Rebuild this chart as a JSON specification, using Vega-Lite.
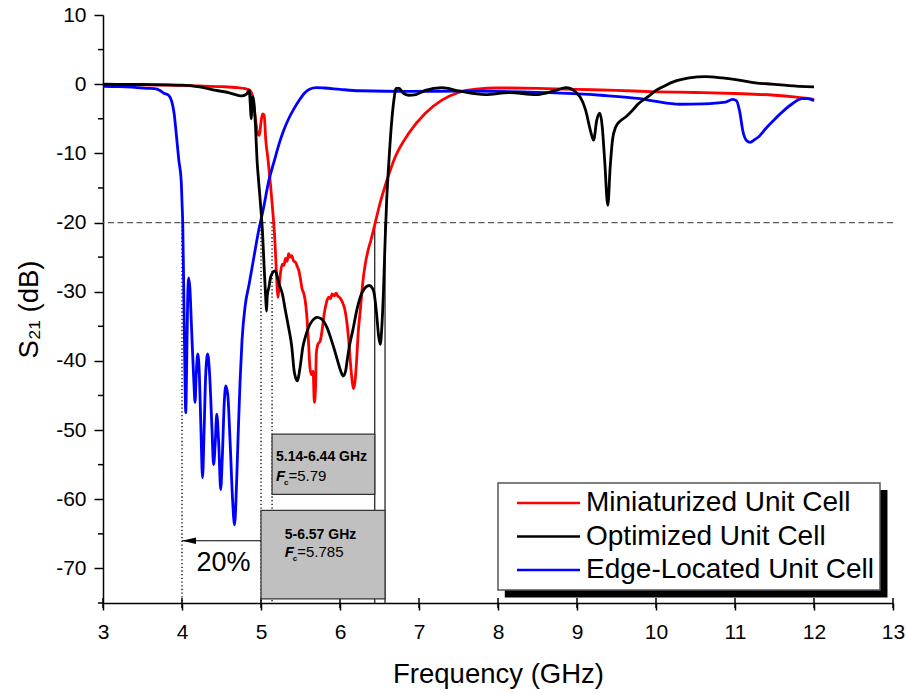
{
  "$schema": "https://vega.github.io/schema/vega-lite/v6.json",
  "width": 790,
  "height": 588,
  "autosize": {"type": "none"},
  "padding": {"left": 103, "top": 15, "right": 13, "bottom": 90},
  "background": "white",
  "config": {
    "view": {"stroke": null},
    "font": "Liberation Sans",
    "text": {"font": "Liberation Sans", "color": "black"}
  },
  "datasets": {
    "curves": [
      {"series": "Miniaturized Unit Cell", "f": 3.0, "s21": -0.05},
      {"series": "Miniaturized Unit Cell", "f": 3.4, "s21": -0.1},
      {"series": "Miniaturized Unit Cell", "f": 3.8, "s21": -0.15},
      {"series": "Miniaturized Unit Cell", "f": 4.2, "s21": -0.25},
      {"series": "Miniaturized Unit Cell", "f": 4.5, "s21": -0.35},
      {"series": "Miniaturized Unit Cell", "f": 4.7, "s21": -0.5},
      {"series": "Miniaturized Unit Cell", "f": 4.8, "s21": -0.65},
      {"series": "Miniaturized Unit Cell", "f": 4.86, "s21": -0.9},
      {"series": "Miniaturized Unit Cell", "f": 4.9, "s21": -2.2},
      {"series": "Miniaturized Unit Cell", "f": 4.93, "s21": -5.0},
      {"series": "Miniaturized Unit Cell", "f": 4.96, "s21": -7.2},
      {"series": "Miniaturized Unit Cell", "f": 4.98, "s21": -7.4},
      {"series": "Miniaturized Unit Cell", "f": 5.0, "s21": -5.5},
      {"series": "Miniaturized Unit Cell", "f": 5.02, "s21": -4.3},
      {"series": "Miniaturized Unit Cell", "f": 5.04, "s21": -4.5},
      {"series": "Miniaturized Unit Cell", "f": 5.06, "s21": -8.0},
      {"series": "Miniaturized Unit Cell", "f": 5.09, "s21": -11.0},
      {"series": "Miniaturized Unit Cell", "f": 5.12, "s21": -14.5},
      {"series": "Miniaturized Unit Cell", "f": 5.15, "s21": -18.5},
      {"series": "Miniaturized Unit Cell", "f": 5.17, "s21": -21.5},
      {"series": "Miniaturized Unit Cell", "f": 5.19, "s21": -26.0},
      {"series": "Miniaturized Unit Cell", "f": 5.205, "s21": -29.5},
      {"series": "Miniaturized Unit Cell", "f": 5.215, "s21": -30.8},
      {"series": "Miniaturized Unit Cell", "f": 5.23, "s21": -29.0},
      {"series": "Miniaturized Unit Cell", "f": 5.25, "s21": -27.0},
      {"series": "Miniaturized Unit Cell", "f": 5.27, "s21": -26.0},
      {"series": "Miniaturized Unit Cell", "f": 5.29, "s21": -26.2},
      {"series": "Miniaturized Unit Cell", "f": 5.31, "s21": -25.2},
      {"series": "Miniaturized Unit Cell", "f": 5.33, "s21": -25.6},
      {"series": "Miniaturized Unit Cell", "f": 5.35, "s21": -24.5},
      {"series": "Miniaturized Unit Cell", "f": 5.37, "s21": -25.0},
      {"series": "Miniaturized Unit Cell", "f": 5.39, "s21": -24.8},
      {"series": "Miniaturized Unit Cell", "f": 5.41, "s21": -25.5},
      {"series": "Miniaturized Unit Cell", "f": 5.44, "s21": -25.8},
      {"series": "Miniaturized Unit Cell", "f": 5.46, "s21": -26.4},
      {"series": "Miniaturized Unit Cell", "f": 5.48, "s21": -27.0},
      {"series": "Miniaturized Unit Cell", "f": 5.5, "s21": -28.2},
      {"series": "Miniaturized Unit Cell", "f": 5.52, "s21": -29.6},
      {"series": "Miniaturized Unit Cell", "f": 5.54, "s21": -30.2},
      {"series": "Miniaturized Unit Cell", "f": 5.56, "s21": -31.3},
      {"series": "Miniaturized Unit Cell", "f": 5.58, "s21": -33.5},
      {"series": "Miniaturized Unit Cell", "f": 5.6, "s21": -37.0},
      {"series": "Miniaturized Unit Cell", "f": 5.62, "s21": -41.0},
      {"series": "Miniaturized Unit Cell", "f": 5.64, "s21": -42.0},
      {"series": "Miniaturized Unit Cell", "f": 5.66, "s21": -41.5},
      {"series": "Miniaturized Unit Cell", "f": 5.675, "s21": -46.0},
      {"series": "Miniaturized Unit Cell", "f": 5.69, "s21": -44.0},
      {"series": "Miniaturized Unit Cell", "f": 5.7, "s21": -39.0},
      {"series": "Miniaturized Unit Cell", "f": 5.72, "s21": -37.6},
      {"series": "Miniaturized Unit Cell", "f": 5.75, "s21": -37.1},
      {"series": "Miniaturized Unit Cell", "f": 5.78, "s21": -35.0},
      {"series": "Miniaturized Unit Cell", "f": 5.8, "s21": -33.2},
      {"series": "Miniaturized Unit Cell", "f": 5.83, "s21": -31.5},
      {"series": "Miniaturized Unit Cell", "f": 5.86, "s21": -30.8},
      {"series": "Miniaturized Unit Cell", "f": 5.88, "s21": -31.0},
      {"series": "Miniaturized Unit Cell", "f": 5.9, "s21": -30.3},
      {"series": "Miniaturized Unit Cell", "f": 5.93, "s21": -30.6},
      {"series": "Miniaturized Unit Cell", "f": 5.95, "s21": -30.2},
      {"series": "Miniaturized Unit Cell", "f": 5.97, "s21": -30.6},
      {"series": "Miniaturized Unit Cell", "f": 6.0, "s21": -30.9},
      {"series": "Miniaturized Unit Cell", "f": 6.03, "s21": -31.5},
      {"series": "Miniaturized Unit Cell", "f": 6.06, "s21": -32.5},
      {"series": "Miniaturized Unit Cell", "f": 6.09, "s21": -34.7},
      {"series": "Miniaturized Unit Cell", "f": 6.11, "s21": -37.0},
      {"series": "Miniaturized Unit Cell", "f": 6.13, "s21": -40.0},
      {"series": "Miniaturized Unit Cell", "f": 6.155, "s21": -43.0},
      {"series": "Miniaturized Unit Cell", "f": 6.17, "s21": -44.0},
      {"series": "Miniaturized Unit Cell", "f": 6.19, "s21": -43.0},
      {"series": "Miniaturized Unit Cell", "f": 6.21, "s21": -40.0},
      {"series": "Miniaturized Unit Cell", "f": 6.23, "s21": -36.0},
      {"series": "Miniaturized Unit Cell", "f": 6.26, "s21": -32.3},
      {"series": "Miniaturized Unit Cell", "f": 6.29, "s21": -28.5},
      {"series": "Miniaturized Unit Cell", "f": 6.32, "s21": -26.0},
      {"series": "Miniaturized Unit Cell", "f": 6.36, "s21": -23.8},
      {"series": "Miniaturized Unit Cell", "f": 6.39, "s21": -22.6},
      {"series": "Miniaturized Unit Cell", "f": 6.43, "s21": -20.8},
      {"series": "Miniaturized Unit Cell", "f": 6.5, "s21": -17.5},
      {"series": "Miniaturized Unit Cell", "f": 6.58, "s21": -14.4},
      {"series": "Miniaturized Unit Cell", "f": 6.7, "s21": -10.5},
      {"series": "Miniaturized Unit Cell", "f": 6.87, "s21": -7.1},
      {"series": "Miniaturized Unit Cell", "f": 7.08, "s21": -4.2},
      {"series": "Miniaturized Unit Cell", "f": 7.29, "s21": -2.3},
      {"series": "Miniaturized Unit Cell", "f": 7.5, "s21": -1.2},
      {"series": "Miniaturized Unit Cell", "f": 7.72, "s21": -0.7},
      {"series": "Miniaturized Unit Cell", "f": 8.0, "s21": -0.55},
      {"series": "Miniaturized Unit Cell", "f": 8.5, "s21": -0.6},
      {"series": "Miniaturized Unit Cell", "f": 9.0, "s21": -0.75},
      {"series": "Miniaturized Unit Cell", "f": 9.5, "s21": -0.9},
      {"series": "Miniaturized Unit Cell", "f": 10.0, "s21": -1.1},
      {"series": "Miniaturized Unit Cell", "f": 10.5, "s21": -1.2},
      {"series": "Miniaturized Unit Cell", "f": 11.0, "s21": -1.35},
      {"series": "Miniaturized Unit Cell", "f": 11.5, "s21": -1.6},
      {"series": "Miniaturized Unit Cell", "f": 11.75, "s21": -1.85},
      {"series": "Miniaturized Unit Cell", "f": 12.0, "s21": -2.2},

      {"series": "Edge-Located Unit Cell", "f": 3.0, "s21": -0.3},
      {"series": "Edge-Located Unit Cell", "f": 3.2, "s21": -0.35},
      {"series": "Edge-Located Unit Cell", "f": 3.4, "s21": -0.45},
      {"series": "Edge-Located Unit Cell", "f": 3.55, "s21": -0.6},
      {"series": "Edge-Located Unit Cell", "f": 3.65, "s21": -0.65},
      {"series": "Edge-Located Unit Cell", "f": 3.72, "s21": -0.9},
      {"series": "Edge-Located Unit Cell", "f": 3.77, "s21": -1.3},
      {"series": "Edge-Located Unit Cell", "f": 3.83, "s21": -1.6},
      {"series": "Edge-Located Unit Cell", "f": 3.87, "s21": -2.5},
      {"series": "Edge-Located Unit Cell", "f": 3.9, "s21": -4.2},
      {"series": "Edge-Located Unit Cell", "f": 3.93, "s21": -7.5},
      {"series": "Edge-Located Unit Cell", "f": 3.96, "s21": -11.0},
      {"series": "Edge-Located Unit Cell", "f": 3.99, "s21": -14.0},
      {"series": "Edge-Located Unit Cell", "f": 4.0, "s21": -17.0},
      {"series": "Edge-Located Unit Cell", "f": 4.01, "s21": -20.5},
      {"series": "Edge-Located Unit Cell", "f": 4.025, "s21": -32.0},
      {"series": "Edge-Located Unit Cell", "f": 4.04, "s21": -44.0},
      {"series": "Edge-Located Unit Cell", "f": 4.047, "s21": -47.5},
      {"series": "Edge-Located Unit Cell", "f": 4.06, "s21": -40.0},
      {"series": "Edge-Located Unit Cell", "f": 4.072, "s21": -31.0},
      {"series": "Edge-Located Unit Cell", "f": 4.085, "s21": -28.0},
      {"series": "Edge-Located Unit Cell", "f": 4.1, "s21": -29.5},
      {"series": "Edge-Located Unit Cell", "f": 4.12, "s21": -35.0},
      {"series": "Edge-Located Unit Cell", "f": 4.15, "s21": -43.0},
      {"series": "Edge-Located Unit Cell", "f": 4.165, "s21": -46.0},
      {"series": "Edge-Located Unit Cell", "f": 4.18, "s21": -42.0},
      {"series": "Edge-Located Unit Cell", "f": 4.2, "s21": -39.0},
      {"series": "Edge-Located Unit Cell", "f": 4.22, "s21": -42.0},
      {"series": "Edge-Located Unit Cell", "f": 4.24, "s21": -50.0},
      {"series": "Edge-Located Unit Cell", "f": 4.26, "s21": -56.9},
      {"series": "Edge-Located Unit Cell", "f": 4.28, "s21": -50.0},
      {"series": "Edge-Located Unit Cell", "f": 4.3, "s21": -42.0},
      {"series": "Edge-Located Unit Cell", "f": 4.325, "s21": -39.0},
      {"series": "Edge-Located Unit Cell", "f": 4.35, "s21": -42.0},
      {"series": "Edge-Located Unit Cell", "f": 4.38, "s21": -50.0},
      {"series": "Edge-Located Unit Cell", "f": 4.4, "s21": -55.0},
      {"series": "Edge-Located Unit Cell", "f": 4.42, "s21": -52.0},
      {"series": "Edge-Located Unit Cell", "f": 4.44, "s21": -47.7},
      {"series": "Edge-Located Unit Cell", "f": 4.465, "s21": -52.0},
      {"series": "Edge-Located Unit Cell", "f": 4.49, "s21": -58.6},
      {"series": "Edge-Located Unit Cell", "f": 4.51, "s21": -54.0},
      {"series": "Edge-Located Unit Cell", "f": 4.535, "s21": -46.0},
      {"series": "Edge-Located Unit Cell", "f": 4.555, "s21": -43.6},
      {"series": "Edge-Located Unit Cell", "f": 4.58, "s21": -45.0},
      {"series": "Edge-Located Unit Cell", "f": 4.61, "s21": -52.0},
      {"series": "Edge-Located Unit Cell", "f": 4.64, "s21": -60.0},
      {"series": "Edge-Located Unit Cell", "f": 4.665, "s21": -63.7},
      {"series": "Edge-Located Unit Cell", "f": 4.69, "s21": -58.0},
      {"series": "Edge-Located Unit Cell", "f": 4.71, "s21": -51.0},
      {"series": "Edge-Located Unit Cell", "f": 4.735, "s21": -43.0},
      {"series": "Edge-Located Unit Cell", "f": 4.76, "s21": -37.0},
      {"series": "Edge-Located Unit Cell", "f": 4.8, "s21": -32.0},
      {"series": "Edge-Located Unit Cell", "f": 4.85, "s21": -28.9},
      {"series": "Edge-Located Unit Cell", "f": 4.91, "s21": -25.0},
      {"series": "Edge-Located Unit Cell", "f": 4.97, "s21": -21.2},
      {"series": "Edge-Located Unit Cell", "f": 5.03, "s21": -18.0},
      {"series": "Edge-Located Unit Cell", "f": 5.1, "s21": -13.9},
      {"series": "Edge-Located Unit Cell", "f": 5.17, "s21": -11.0},
      {"series": "Edge-Located Unit Cell", "f": 5.23, "s21": -8.6},
      {"series": "Edge-Located Unit Cell", "f": 5.29, "s21": -6.6},
      {"series": "Edge-Located Unit Cell", "f": 5.35, "s21": -5.0},
      {"series": "Edge-Located Unit Cell", "f": 5.42, "s21": -3.5},
      {"series": "Edge-Located Unit Cell", "f": 5.48, "s21": -2.4},
      {"series": "Edge-Located Unit Cell", "f": 5.55, "s21": -1.3},
      {"series": "Edge-Located Unit Cell", "f": 5.62, "s21": -0.7},
      {"series": "Edge-Located Unit Cell", "f": 5.7, "s21": -0.5},
      {"series": "Edge-Located Unit Cell", "f": 5.8, "s21": -0.55},
      {"series": "Edge-Located Unit Cell", "f": 6.0, "s21": -0.75},
      {"series": "Edge-Located Unit Cell", "f": 6.25, "s21": -0.95},
      {"series": "Edge-Located Unit Cell", "f": 6.9, "s21": -1.05},
      {"series": "Edge-Located Unit Cell", "f": 7.5, "s21": -1.0},
      {"series": "Edge-Located Unit Cell", "f": 8.0, "s21": -1.05},
      {"series": "Edge-Located Unit Cell", "f": 8.8, "s21": -1.3},
      {"series": "Edge-Located Unit Cell", "f": 9.3, "s21": -1.6},
      {"series": "Edge-Located Unit Cell", "f": 9.8, "s21": -2.1},
      {"series": "Edge-Located Unit Cell", "f": 10.0, "s21": -2.5},
      {"series": "Edge-Located Unit Cell", "f": 10.3, "s21": -2.9},
      {"series": "Edge-Located Unit Cell", "f": 10.6, "s21": -2.85},
      {"series": "Edge-Located Unit Cell", "f": 10.88, "s21": -2.6},
      {"series": "Edge-Located Unit Cell", "f": 10.97, "s21": -2.2},
      {"series": "Edge-Located Unit Cell", "f": 11.02, "s21": -2.4},
      {"series": "Edge-Located Unit Cell", "f": 11.06, "s21": -4.0},
      {"series": "Edge-Located Unit Cell", "f": 11.1, "s21": -6.8},
      {"series": "Edge-Located Unit Cell", "f": 11.15, "s21": -8.2},
      {"series": "Edge-Located Unit Cell", "f": 11.19, "s21": -8.4},
      {"series": "Edge-Located Unit Cell", "f": 11.25, "s21": -8.0},
      {"series": "Edge-Located Unit Cell", "f": 11.3, "s21": -7.6},
      {"series": "Edge-Located Unit Cell", "f": 11.39, "s21": -6.4},
      {"series": "Edge-Located Unit Cell", "f": 11.5, "s21": -5.1},
      {"series": "Edge-Located Unit Cell", "f": 11.6, "s21": -4.0},
      {"series": "Edge-Located Unit Cell", "f": 11.73, "s21": -2.8},
      {"series": "Edge-Located Unit Cell", "f": 11.85, "s21": -2.1},
      {"series": "Edge-Located Unit Cell", "f": 11.92, "s21": -2.1},
      {"series": "Edge-Located Unit Cell", "f": 12.0, "s21": -2.4},

      {"series": "Optimized Unit Cell", "f": 3.0, "s21": 0.0},
      {"series": "Optimized Unit Cell", "f": 3.5, "s21": -0.05},
      {"series": "Optimized Unit Cell", "f": 4.0, "s21": -0.15},
      {"series": "Optimized Unit Cell", "f": 4.22, "s21": -0.4},
      {"series": "Optimized Unit Cell", "f": 4.43, "s21": -0.9},
      {"series": "Optimized Unit Cell", "f": 4.6, "s21": -1.25},
      {"series": "Optimized Unit Cell", "f": 4.7, "s21": -1.6},
      {"series": "Optimized Unit Cell", "f": 4.76, "s21": -1.7},
      {"series": "Optimized Unit Cell", "f": 4.82, "s21": -1.4},
      {"series": "Optimized Unit Cell", "f": 4.85, "s21": -0.9},
      {"series": "Optimized Unit Cell", "f": 4.865, "s21": -3.0},
      {"series": "Optimized Unit Cell", "f": 4.875, "s21": -5.0},
      {"series": "Optimized Unit Cell", "f": 4.89, "s21": -2.0},
      {"series": "Optimized Unit Cell", "f": 4.9, "s21": -1.8},
      {"series": "Optimized Unit Cell", "f": 4.915, "s21": -3.3},
      {"series": "Optimized Unit Cell", "f": 4.93, "s21": -6.0},
      {"series": "Optimized Unit Cell", "f": 4.95, "s21": -11.0},
      {"series": "Optimized Unit Cell", "f": 4.97, "s21": -14.0},
      {"series": "Optimized Unit Cell", "f": 4.99, "s21": -16.8},
      {"series": "Optimized Unit Cell", "f": 5.02, "s21": -21.6},
      {"series": "Optimized Unit Cell", "f": 5.04, "s21": -26.5},
      {"series": "Optimized Unit Cell", "f": 5.06, "s21": -31.0},
      {"series": "Optimized Unit Cell", "f": 5.07, "s21": -32.8},
      {"series": "Optimized Unit Cell", "f": 5.08, "s21": -30.5},
      {"series": "Optimized Unit Cell", "f": 5.1, "s21": -29.4},
      {"series": "Optimized Unit Cell", "f": 5.12, "s21": -28.0},
      {"series": "Optimized Unit Cell", "f": 5.14, "s21": -27.4},
      {"series": "Optimized Unit Cell", "f": 5.17, "s21": -27.0},
      {"series": "Optimized Unit Cell", "f": 5.19, "s21": -27.2},
      {"series": "Optimized Unit Cell", "f": 5.21, "s21": -28.0},
      {"series": "Optimized Unit Cell", "f": 5.23, "s21": -28.9},
      {"series": "Optimized Unit Cell", "f": 5.27, "s21": -30.3},
      {"series": "Optimized Unit Cell", "f": 5.31, "s21": -32.8},
      {"series": "Optimized Unit Cell", "f": 5.35, "s21": -35.2},
      {"series": "Optimized Unit Cell", "f": 5.39, "s21": -38.0},
      {"series": "Optimized Unit Cell", "f": 5.42, "s21": -41.5},
      {"series": "Optimized Unit Cell", "f": 5.44, "s21": -42.5},
      {"series": "Optimized Unit Cell", "f": 5.46, "s21": -42.9},
      {"series": "Optimized Unit Cell", "f": 5.48, "s21": -42.0},
      {"series": "Optimized Unit Cell", "f": 5.5, "s21": -40.5},
      {"series": "Optimized Unit Cell", "f": 5.53, "s21": -38.0},
      {"series": "Optimized Unit Cell", "f": 5.56, "s21": -36.6},
      {"series": "Optimized Unit Cell", "f": 5.6, "s21": -35.2},
      {"series": "Optimized Unit Cell", "f": 5.65, "s21": -34.2},
      {"series": "Optimized Unit Cell", "f": 5.71, "s21": -33.7},
      {"series": "Optimized Unit Cell", "f": 5.76, "s21": -33.9},
      {"series": "Optimized Unit Cell", "f": 5.8, "s21": -34.4},
      {"series": "Optimized Unit Cell", "f": 5.84, "s21": -35.3},
      {"series": "Optimized Unit Cell", "f": 5.88, "s21": -36.6},
      {"series": "Optimized Unit Cell", "f": 5.93, "s21": -38.4},
      {"series": "Optimized Unit Cell", "f": 5.97, "s21": -40.0},
      {"series": "Optimized Unit Cell", "f": 6.01, "s21": -41.5},
      {"series": "Optimized Unit Cell", "f": 6.04, "s21": -42.2},
      {"series": "Optimized Unit Cell", "f": 6.07, "s21": -41.5},
      {"series": "Optimized Unit Cell", "f": 6.09, "s21": -40.0},
      {"series": "Optimized Unit Cell", "f": 6.12, "s21": -37.8},
      {"series": "Optimized Unit Cell", "f": 6.16, "s21": -35.7},
      {"series": "Optimized Unit Cell", "f": 6.22, "s21": -32.3},
      {"series": "Optimized Unit Cell", "f": 6.28, "s21": -30.1},
      {"series": "Optimized Unit Cell", "f": 6.33, "s21": -29.3},
      {"series": "Optimized Unit Cell", "f": 6.37, "s21": -29.1},
      {"series": "Optimized Unit Cell", "f": 6.41, "s21": -29.5},
      {"series": "Optimized Unit Cell", "f": 6.43, "s21": -30.1},
      {"series": "Optimized Unit Cell", "f": 6.46, "s21": -32.8},
      {"series": "Optimized Unit Cell", "f": 6.49, "s21": -36.5},
      {"series": "Optimized Unit Cell", "f": 6.51, "s21": -37.6},
      {"series": "Optimized Unit Cell", "f": 6.53, "s21": -35.0},
      {"series": "Optimized Unit Cell", "f": 6.55, "s21": -30.0},
      {"series": "Optimized Unit Cell", "f": 6.57, "s21": -23.0},
      {"series": "Optimized Unit Cell", "f": 6.59, "s21": -17.0},
      {"series": "Optimized Unit Cell", "f": 6.62, "s21": -11.0},
      {"series": "Optimized Unit Cell", "f": 6.65, "s21": -6.0},
      {"series": "Optimized Unit Cell", "f": 6.68, "s21": -2.5},
      {"series": "Optimized Unit Cell", "f": 6.71, "s21": -0.6},
      {"series": "Optimized Unit Cell", "f": 6.75, "s21": -0.6},
      {"series": "Optimized Unit Cell", "f": 6.8, "s21": -1.3},
      {"series": "Optimized Unit Cell", "f": 6.87, "s21": -1.6},
      {"series": "Optimized Unit Cell", "f": 6.96, "s21": -1.5},
      {"series": "Optimized Unit Cell", "f": 7.08, "s21": -0.9},
      {"series": "Optimized Unit Cell", "f": 7.29, "s21": -0.5},
      {"series": "Optimized Unit Cell", "f": 7.51, "s21": -1.0},
      {"series": "Optimized Unit Cell", "f": 7.84, "s21": -1.5},
      {"series": "Optimized Unit Cell", "f": 8.14, "s21": -1.2},
      {"series": "Optimized Unit Cell", "f": 8.48, "s21": -1.5},
      {"series": "Optimized Unit Cell", "f": 8.73, "s21": -0.9},
      {"series": "Optimized Unit Cell", "f": 8.86, "s21": -0.5},
      {"series": "Optimized Unit Cell", "f": 8.98, "s21": -1.1},
      {"series": "Optimized Unit Cell", "f": 9.07, "s21": -2.5},
      {"series": "Optimized Unit Cell", "f": 9.11, "s21": -3.8},
      {"series": "Optimized Unit Cell", "f": 9.17, "s21": -6.7},
      {"series": "Optimized Unit Cell", "f": 9.21, "s21": -8.1},
      {"series": "Optimized Unit Cell", "f": 9.25, "s21": -5.2},
      {"series": "Optimized Unit Cell", "f": 9.29, "s21": -4.2},
      {"series": "Optimized Unit Cell", "f": 9.32, "s21": -6.2},
      {"series": "Optimized Unit Cell", "f": 9.35, "s21": -11.0},
      {"series": "Optimized Unit Cell", "f": 9.39, "s21": -17.5},
      {"series": "Optimized Unit Cell", "f": 9.42, "s21": -12.0},
      {"series": "Optimized Unit Cell", "f": 9.45, "s21": -8.0},
      {"series": "Optimized Unit Cell", "f": 9.49, "s21": -6.2},
      {"series": "Optimized Unit Cell", "f": 9.55, "s21": -5.3},
      {"series": "Optimized Unit Cell", "f": 9.62, "s21": -4.7},
      {"series": "Optimized Unit Cell", "f": 9.7, "s21": -3.8},
      {"series": "Optimized Unit Cell", "f": 9.78, "s21": -2.8},
      {"series": "Optimized Unit Cell", "f": 9.9, "s21": -1.8},
      {"series": "Optimized Unit Cell", "f": 10.0, "s21": -0.9},
      {"series": "Optimized Unit Cell", "f": 10.1, "s21": -0.3},
      {"series": "Optimized Unit Cell", "f": 10.21, "s21": 0.3},
      {"series": "Optimized Unit Cell", "f": 10.42, "s21": 0.9},
      {"series": "Optimized Unit Cell", "f": 10.63, "s21": 1.1},
      {"series": "Optimized Unit Cell", "f": 10.84, "s21": 0.9},
      {"series": "Optimized Unit Cell", "f": 11.05, "s21": 0.6},
      {"series": "Optimized Unit Cell", "f": 11.26, "s21": 0.2},
      {"series": "Optimized Unit Cell", "f": 11.47, "s21": 0.0},
      {"series": "Optimized Unit Cell", "f": 11.68, "s21": -0.2},
      {"series": "Optimized Unit Cell", "f": 12.0, "s21": -0.4}
    ],
    "bands": [
      {"f0": 5.14, "f1": 6.44, "s0": -50.6, "s1": -59.3, "fText": 5.19, "sTitle": -53.9, "sFc": -56.6, "band": "5.14-6.44 GHz", "fc": "=5.79"},
      {"f0": 5.0, "f1": 6.57, "s0": -61.6, "s1": -74.4, "fText": 5.3, "sTitle": -65.1, "sFc": -67.6, "band": "5-6.57 GHz", "fc": "=5.785"}
    ]
  },
  "layer": [
    {
      "description": "drop shadow behind the legend box",
      "data": {"values": [{"f0": 8.086, "f1": 12.93, "s0": -58.66, "s1": -74.2}]},
      "mark": {"type": "rect", "fill": "black"},
      "encoding": {
        "x": {"field": "f0", "type": "quantitative", "scale": {"domain": [3, 13], "nice": false, "zero": false}},
        "x2": {"field": "f1"},
        "y": {"field": "s0", "type": "quantitative", "scale": {"domain": [-75, 10], "nice": false, "zero": false}},
        "y2": {"field": "s1"}
      }
    },
    {
      "description": "-20 dB reference level",
      "data": {"values": [{"s21": -20}]},
      "mark": {"type": "rule", "color": "#5a5a5a", "strokeDash": [6, 3.5], "strokeWidth": 1.3},
      "encoding": {
        "y": {"field": "s21", "type": "quantitative", "scale": {"domain": [-75, 10], "nice": false, "zero": false}}
      }
    },
    {
      "description": "dotted band markers",
      "data": {"values": [{"f": 4.0, "top": -20, "bottom": -75}, {"f": 5.0, "top": -20, "bottom": -75}, {"f": 5.14, "top": -20, "bottom": -75}]},
      "mark": {"type": "rule", "color": "black", "strokeDash": [1.3, 2.4], "strokeWidth": 1.3},
      "encoding": {
        "x": {"field": "f", "type": "quantitative", "scale": {"domain": [3, 13], "nice": false, "zero": false}},
        "y": {"field": "top", "type": "quantitative", "scale": {"domain": [-75, 10], "nice": false, "zero": false}},
        "y2": {"field": "bottom"}
      }
    },
    {
      "description": "solid band-edge markers",
      "data": {"values": [{"f": 6.44, "top": -20, "bottom": -75}, {"f": 6.57, "top": -20, "bottom": -75}]},
      "mark": {"type": "rule", "color": "black", "strokeWidth": 1.1},
      "encoding": {
        "x": {"field": "f", "type": "quantitative", "scale": {"domain": [3, 13], "nice": false, "zero": false}},
        "y": {"field": "top", "type": "quantitative", "scale": {"domain": [-75, 10], "nice": false, "zero": false}},
        "y2": {"field": "bottom"}
      }
    },
    {
      "description": "measured S21 curves",
      "data": {"name": "curves"},
      "mark": {"type": "line", "strokeWidth": 2.8, "interpolate": "monotone"},
      "encoding": {
        "x": {"field": "f", "type": "quantitative", "scale": {"domain": [3, 13], "nice": false, "zero": false},
              "axis": {"title": "Frequency (GHz)", "orient": "bottom", "values": [3, 4, 5, 6, 7, 8, 9, 10, 11, 12, 13], "format": "d",
                       "domainColor": "black", "domainWidth": 1.5, "tickColor": "black", "tickWidth": 1.5, "tickSize": 7,
                       "labelFont": "Liberation Sans", "labelFontSize": 21, "labelColor": "black", "labelPadding": 11,
                       "labelFlush": false, "labelOverlap": false, "grid": false,
                       "titleFont": "Liberation Sans", "titleFontSize": 27.5, "titleFontWeight": "normal", "titleColor": "black", "titlePadding": 18}},
        "y": {"field": "s21", "type": "quantitative", "scale": {"domain": [-75, 10], "nice": false, "zero": false},
              "axis": {"title": "S₂₁ (dB)", "orient": "left",
                       "values": [10, 0, -10, -20, -30, -40, -50, -60, -70],
                       "labelExpr": "'' + datum.value",
                       "tickSize": 9,
                       "domainColor": "black", "domainWidth": 1.5, "tickColor": "black", "tickWidth": 1.5,
                       "labelFont": "Liberation Sans", "labelFontSize": 21, "labelColor": "black", "labelPadding": 8,
                       "labelOverlap": false, "labelFlush": false, "grid": false,
                       "titleFont": "Liberation Sans", "titleFontSize": 27.5, "titleFontWeight": "normal", "titleColor": "black", "titlePadding": 12}},
        "color": {"field": "series", "type": "nominal",
                  "scale": {"domain": ["Miniaturized Unit Cell", "Optimized Unit Cell", "Edge-Located Unit Cell"], "range": ["#ff0000", "#000000", "#0000ff"]},
                  "legend": {"title": null, "orient": "none", "legendX": 395, "legendY": 468, "direction": "vertical",
                             "fillColor": "white", "strokeColor": "#555555", "padding": 6,
                             "symbolType": "M-6.3,0H6.3", "symbolSize": 100, "symbolStrokeWidth": 2.6,
                             "symbolOffset": 30.5, "labelOffset": 23.5, "rowPadding": 5.5,
                             "labelFont": "Liberation Sans", "labelFontSize": 28, "labelColor": "black", "labelLimit": 400,
                             "encode": {"legend": {"update": {"strokeWidth": {"value": 1.5}}}}}}
      }
    },
    {
      "description": "ticks crossing the frequency axis line",
      "data": {"values": [{"f": 3}, {"f": 4}, {"f": 5}, {"f": 6}, {"f": 7}, {"f": 8}, {"f": 9}, {"f": 10}, {"f": 11}, {"f": 12}, {"f": 13}]},
      "mark": {"type": "tick", "orient": "vertical", "size": 10, "thickness": 1.5, "color": "black", "opacity": 1},
      "encoding": {
        "x": {"field": "f", "type": "quantitative", "scale": {"domain": [3, 13], "nice": false, "zero": false}},
        "y": {"datum": -75, "type": "quantitative", "scale": {"domain": [-75, 10], "nice": false, "zero": false}}
      }
    },
    {
      "description": "minor ticks on the S21 axis",
      "data": {"values": [{"s21": 5}, {"s21": -5}, {"s21": -15}, {"s21": -25}, {"s21": -35}, {"s21": -45}, {"s21": -55}, {"s21": -65}, {"s21": -75}]},
      "mark": {"type": "tick", "orient": "horizontal", "size": 5, "thickness": 1.5, "color": "black", "opacity": 1, "xOffset": -2.5},
      "encoding": {
        "x": {"datum": 3, "type": "quantitative", "scale": {"domain": [3, 13], "nice": false, "zero": false}},
        "y": {"field": "s21", "type": "quantitative", "scale": {"domain": [-75, 10], "nice": false, "zero": false}}
      }
    },
    {
      "description": "band boxes",
      "data": {"name": "bands"},
      "mark": {"type": "rect", "fill": "#c0c0c0", "stroke": "#333333", "strokeWidth": 1.2},
      "encoding": {
        "x": {"field": "f0", "type": "quantitative", "scale": {"domain": [3, 13], "nice": false, "zero": false}},
        "x2": {"field": "f1"},
        "y": {"field": "s0", "type": "quantitative", "scale": {"domain": [-75, 10], "nice": false, "zero": false}},
        "y2": {"field": "s1"}
      }
    },
    {
      "description": "band range labels",
      "data": {"name": "bands"},
      "mark": {"type": "text", "align": "left", "baseline": "middle", "fontSize": 14, "fontWeight": "bold"},
      "encoding": {
        "x": {"field": "fText", "type": "quantitative", "scale": {"domain": [3, 13], "nice": false, "zero": false}},
        "y": {"field": "sTitle", "type": "quantitative", "scale": {"domain": [-75, 10], "nice": false, "zero": false}},
        "text": {"field": "band"}
      }
    },
    {
      "description": "centre-frequency symbol F",
      "data": {"name": "bands"},
      "mark": {"type": "text", "align": "left", "baseline": "middle", "fontSize": 15, "fontWeight": "bold", "fontStyle": "italic"},
      "encoding": {
        "x": {"field": "fText", "type": "quantitative", "scale": {"domain": [3, 13], "nice": false, "zero": false}},
        "y": {"field": "sFc", "type": "quantitative", "scale": {"domain": [-75, 10], "nice": false, "zero": false}},
        "text": {"value": "F"}
      }
    },
    {
      "description": "subscript c",
      "data": {"name": "bands"},
      "mark": {"type": "text", "align": "left", "baseline": "middle", "fontSize": 8, "fontWeight": "bold", "dx": 8, "dy": 7},
      "encoding": {
        "x": {"field": "fText", "type": "quantitative", "scale": {"domain": [3, 13], "nice": false, "zero": false}},
        "y": {"field": "sFc", "type": "quantitative", "scale": {"domain": [-75, 10], "nice": false, "zero": false}},
        "text": {"value": "c"}
      }
    },
    {
      "description": "centre-frequency values",
      "data": {"name": "bands"},
      "mark": {"type": "text", "align": "left", "baseline": "middle", "fontSize": 15, "dx": 12.5},
      "encoding": {
        "x": {"field": "fText", "type": "quantitative", "scale": {"domain": [3, 13], "nice": false, "zero": false}},
        "y": {"field": "sFc", "type": "quantitative", "scale": {"domain": [-75, 10], "nice": false, "zero": false}},
        "text": {"field": "fc"}
      }
    },
    {
      "description": "bandwidth arrow shaft",
      "data": {"values": [{"f0": 4.0, "f1": 5.0, "s21": -66}]},
      "mark": {"type": "rule", "color": "black", "strokeWidth": 1.2},
      "encoding": {
        "x": {"field": "f0", "type": "quantitative", "scale": {"domain": [3, 13], "nice": false, "zero": false}},
        "x2": {"field": "f1"},
        "y": {"field": "s21", "type": "quantitative", "scale": {"domain": [-75, 10], "nice": false, "zero": false}}
      }
    },
    {
      "description": "bandwidth arrow head",
      "data": {"values": [{"f": 4.0, "s21": -66}]},
      "mark": {"type": "point", "shape": "M0,0L2,-0.45L2,0.45Z", "filled": true, "color": "black", "size": 196, "opacity": 1},
      "encoding": {
        "x": {"field": "f", "type": "quantitative", "scale": {"domain": [3, 13], "nice": false, "zero": false}},
        "y": {"field": "s21", "type": "quantitative", "scale": {"domain": [-75, 10], "nice": false, "zero": false}}
      }
    },
    {
      "description": "fractional bandwidth label",
      "data": {"values": [{"f": 4.525, "s21": -69.2, "label": "20%"}]},
      "mark": {"type": "text", "align": "center", "baseline": "middle", "fontSize": 27},
      "encoding": {
        "x": {"field": "f", "type": "quantitative", "scale": {"domain": [3, 13], "nice": false, "zero": false}},
        "y": {"field": "s21", "type": "quantitative", "scale": {"domain": [-75, 10], "nice": false, "zero": false}},
        "text": {"field": "label"}
      }
    }
  ]
}
